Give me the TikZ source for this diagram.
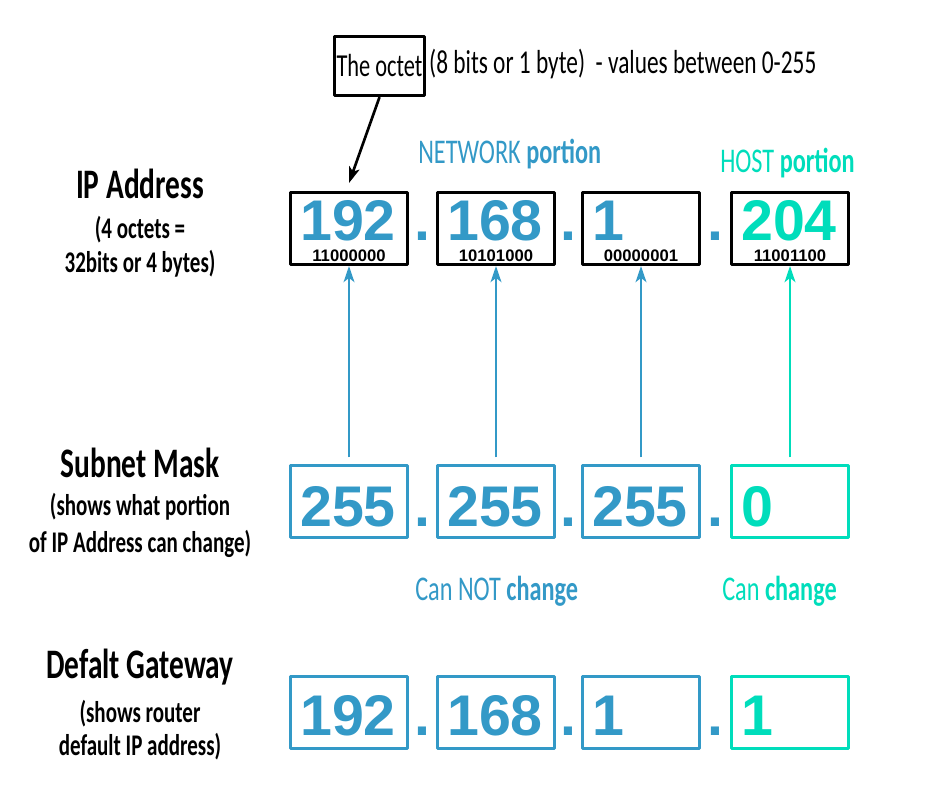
\documentclass[tikz,border=0pt]{standalone}
\usepackage{fontspec}
\setmainfont{Liberation Sans}
\newfontfamily\hand[FakeStretch=0.7]{Carlito}
\usetikzlibrary{calc,arrows.meta}
\definecolor{netblue}{RGB}{51,153,199}
\definecolor{hostteal}{RGB}{0,221,187}

\begin{document}
\begin{tikzpicture}[x=0.75pt,y=-0.75pt,>={Stealth[length=12pt,width=8pt,inset=3pt]}, line join=round,
	octbox/.style={draw,line width=2.2pt,minimum width=88pt,minimum height=54pt,inner sep=0pt},
	big/.style={font=\fontsize{43}{43}\selectfont\bfseries,anchor=base west,inner sep=0pt},
	bits/.style={font=\fontsize{12.5}{12.5}\selectfont\bfseries,anchor=base,inner sep=0pt},
	dot/.style={font=\fontsize{43}{43}\selectfont\bfseries,anchor=base,inner sep=0pt,text=netblue},
	title/.style={font=\hand\fontsize{31.5}{32}\selectfont\bfseries,anchor=base,inner sep=0pt},
	note/.style={font=\hand\fontsize{22.5}{23}\selectfont\bfseries,anchor=base,inner sep=0pt},
	lbl/.style={font=\hand\fontsize{26}{26}\selectfont,anchor=base west,inner sep=0pt},
	up/.style={->,line width=2pt}]
	\useasboundingbox (0,0) rectangle (949,801);
	\def\ya{228.5} \def\yb{501.5} \def\yc{712.5}
	% left column
	\node[title] (iptitle) at (140,198) {IP Address};
	\node[note] (ipnote1) at (140,238) {(4 octets =};
	\node[note] (ipnote2) at (140,272) {32bits or 4 bytes)};
	\node[title] (smtitle) at (140,477) {Subnet Mask};
	\node[note] (smnote1) at (140,515) {(shows what portion};
	\node[note] (smnote2) at (140,552) {of IP Address can change)};
	\node[title] (gwtitle) at (140,678) {Defalt Gateway};
	\node[note] (gwnote1) at (140,722) {(shows router};
	\node[note] (gwnote2) at (140,755) {default IP address)};
	% IP address row
	\node[octbox] (ip1) at (349,\ya) {};
	\node[octbox] (ip2) at (496,\ya) {};
	\node[octbox] (ip3) at (641,\ya) {};
	\node[octbox] (ip4) at (790,\ya) {};
	\node[big,text=netblue] (ipn1) at ($(ip1.south west)+(11,-25)$) {192};
	\node[big,text=netblue] (ipn2) at ($(ip2.south west)+(11,-25)$) {168};
	\node[big,text=netblue] (ipn3) at ($(ip3.south west)+(11,-25)$) {1};
	\node[big,text=hostteal] (ipn4) at ($(ip4.south west)+(11,-25)$) {204};
	\node[bits] (ipb1) at ($(ip1.south)+(0,-4)$) {11000000};
	\node[bits] (ipb2) at ($(ip2.south)+(0,-4)$) {10101000};
	\node[bits] (ipb3) at ($(ip3.south)+(0,-4)$) {00000001};
	\node[bits] (ipb4) at ($(ip4.south)+(0,-4)$) {11001100};
	\node[dot] (ipd1) at ($(ip1.south east)!0.5!(ip2.south west)+(0,-25)$) {.};
	\node[dot] (ipd2) at ($(ip2.south east)!0.5!(ip3.south west)+(0,-25)$) {.};
	\node[dot] (ipd3) at ($(ip3.south east)!0.5!(ip4.south west)+(0,-25)$) {.};
	% subnet mask row
	\node[octbox,netblue] (sm1) at (349,\yb) {};
	\node[octbox,netblue] (sm2) at (496,\yb) {};
	\node[octbox,netblue] (sm3) at (641,\yb) {};
	\node[octbox,hostteal] (sm4) at (790,\yb) {};
	\node[big,text=netblue] (smn1) at ($(sm1.south west)+(11,-12)$) {255};
	\node[big,text=netblue] (smn2) at ($(sm2.south west)+(11,-12)$) {255};
	\node[big,text=netblue] (smn3) at ($(sm3.south west)+(11,-12)$) {255};
	\node[big,text=hostteal] (smn4) at ($(sm4.south west)+(11,-12)$) {0};
	\node[dot] (smd1) at ($(sm1.south east)!0.5!(sm2.south west)+(0,-12)$) {.};
	\node[dot] (smd2) at ($(sm2.south east)!0.5!(sm3.south west)+(0,-12)$) {.};
	\node[dot] (smd3) at ($(sm3.south east)!0.5!(sm4.south west)+(0,-12)$) {.};
	% gateway row
	\node[octbox,netblue] (gw1) at (349,\yc) {};
	\node[octbox,netblue] (gw2) at (496,\yc) {};
	\node[octbox,netblue] (gw3) at (641,\yc) {};
	\node[octbox,hostteal] (gw4) at (790,\yc) {};
	\node[big,text=netblue] (gwn1) at ($(gw1.south west)+(11,-14)$) {192};
	\node[big,text=netblue] (gwn2) at ($(gw2.south west)+(11,-14)$) {168};
	\node[big,text=netblue] (gwn3) at ($(gw3.south west)+(11,-14)$) {1};
	\node[big,text=hostteal] (gwn4) at ($(gw4.south west)+(11,-14)$) {1};
	\node[dot] (gwd1) at ($(gw1.south east)!0.5!(gw2.south west)+(0,-14)$) {.};
	\node[dot] (gwd2) at ($(gw2.south east)!0.5!(gw3.south west)+(0,-14)$) {.};
	\node[dot] (gwd3) at ($(gw3.south east)!0.5!(gw4.south west)+(0,-14)$) {.};
	% labels
	\node[lbl,text=netblue] (netlbl) at (418,163) {NETWORK \textbf{portion}};
	\node[lbl,text=hostteal] (hostlbl) at (720,172) {HOST \textbf{portion}};
	\node[lbl,text=netblue] (fixedlbl) at (415,600) {Can NOT \textbf{change}};
	\node[lbl,text=hostteal] (freelbl) at (722,600) {Can \textbf{change}};
	% the octet
	\node[draw,line width=2.2pt,minimum width=67.5pt,minimum height=44.5pt,inner sep=0pt,
		font=\hand\fontsize{24}{24}\selectfont] (octet) at (379.5,66) {The octet};
	\node[font=\hand\fontsize{25}{25}\selectfont,anchor=base west,inner sep=0pt] (octrange)
		at ($(octet.east)+(3,7)$) {(8 bits or 1 byte)\ \ - values between 0-255};
	\draw[up] (octet.south) -- ([yshift=6pt]ip1.north);
	% arrows
	\draw[up,netblue] ([yshift=5pt]sm1.north) -- (ip1.south);
	\draw[up,netblue] ([yshift=5pt]sm2.north) -- (ip2.south);
	\draw[up,netblue] ([yshift=5pt]sm3.north) -- (ip3.south);
	\draw[up,hostteal] ([yshift=5pt]sm4.north) -- (ip4.south);
\end{tikzpicture}
\end{document}
